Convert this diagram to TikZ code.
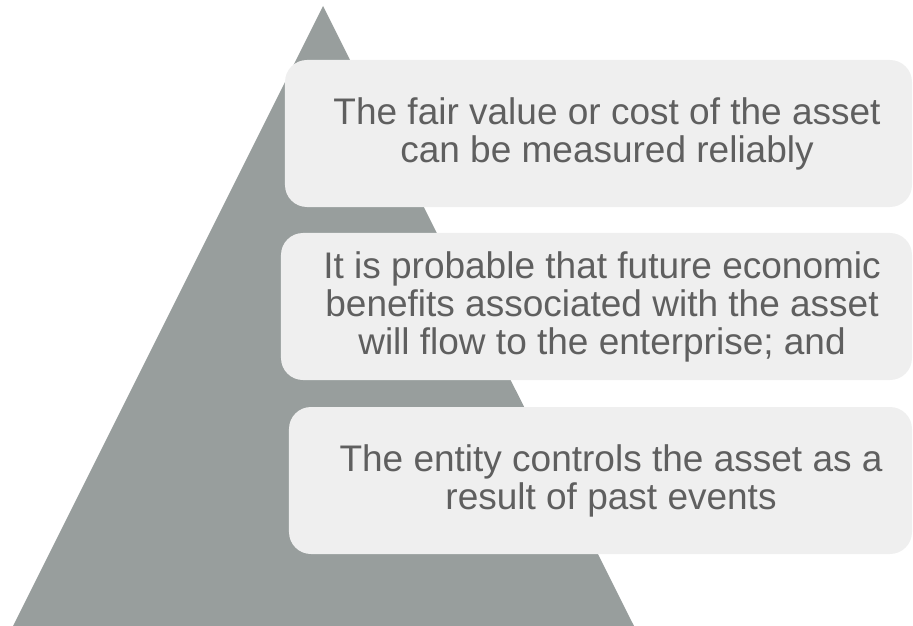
\documentclass[tikz,border=0pt]{standalone}
\usepackage{xcolor}
\usepackage{fontspec}
\setmainfont{Liberation Sans}
\usepackage{tikz}
\usetikzlibrary{calc}
\usetikzlibrary{shapes}
\usetikzlibrary{positioning}
\definecolor{pyrgray}{HTML}{989E9D}
\definecolor{condfill}{HTML}{EFEFEF}
\definecolor{condink}{HTML}{5F5F5F}
\tikzstyle{cond} = [rectangle, fill=condfill, rounded corners=22bp, minimum height=147bp, inner sep=0pt]
\tikzstyle{condtext} = [text=condink, align=center, inner sep=0pt, font=\fontsize{37bp}{38bp}\selectfont]

\begin{document}
\begin{tikzpicture}[x=1bp, y=-1bp]
\useasboundingbox (0,0) rectangle (913,626);
\coordinate (apex) at (323,6);
\coordinate (left) at (13,626);
\coordinate (right) at (634,626);
\fill [pyrgray] (apex) -- (right) -- (left) -- cycle;
\node [cond, minimum width=627bp] (C1) at (598.5,133.5) {};
\node [cond, minimum width=631bp] (C2) at (596.5,306.5) {};
\node [cond, minimum width=623bp] (C3) at (600.5,480.5) {};
\node [condtext] (T1) at (607,133.5) {The fair value or cost of the asset\\can be measured reliably};
\node [condtext] (T2) at (602,306.5) {It is probable that future economic\\benefits associated with the asset\\will flow to the enterprise; and};
\node [condtext] (T3) at (611,480.5) {The entity controls the asset as a\\result of past events};
\end{tikzpicture}
\end{document}
